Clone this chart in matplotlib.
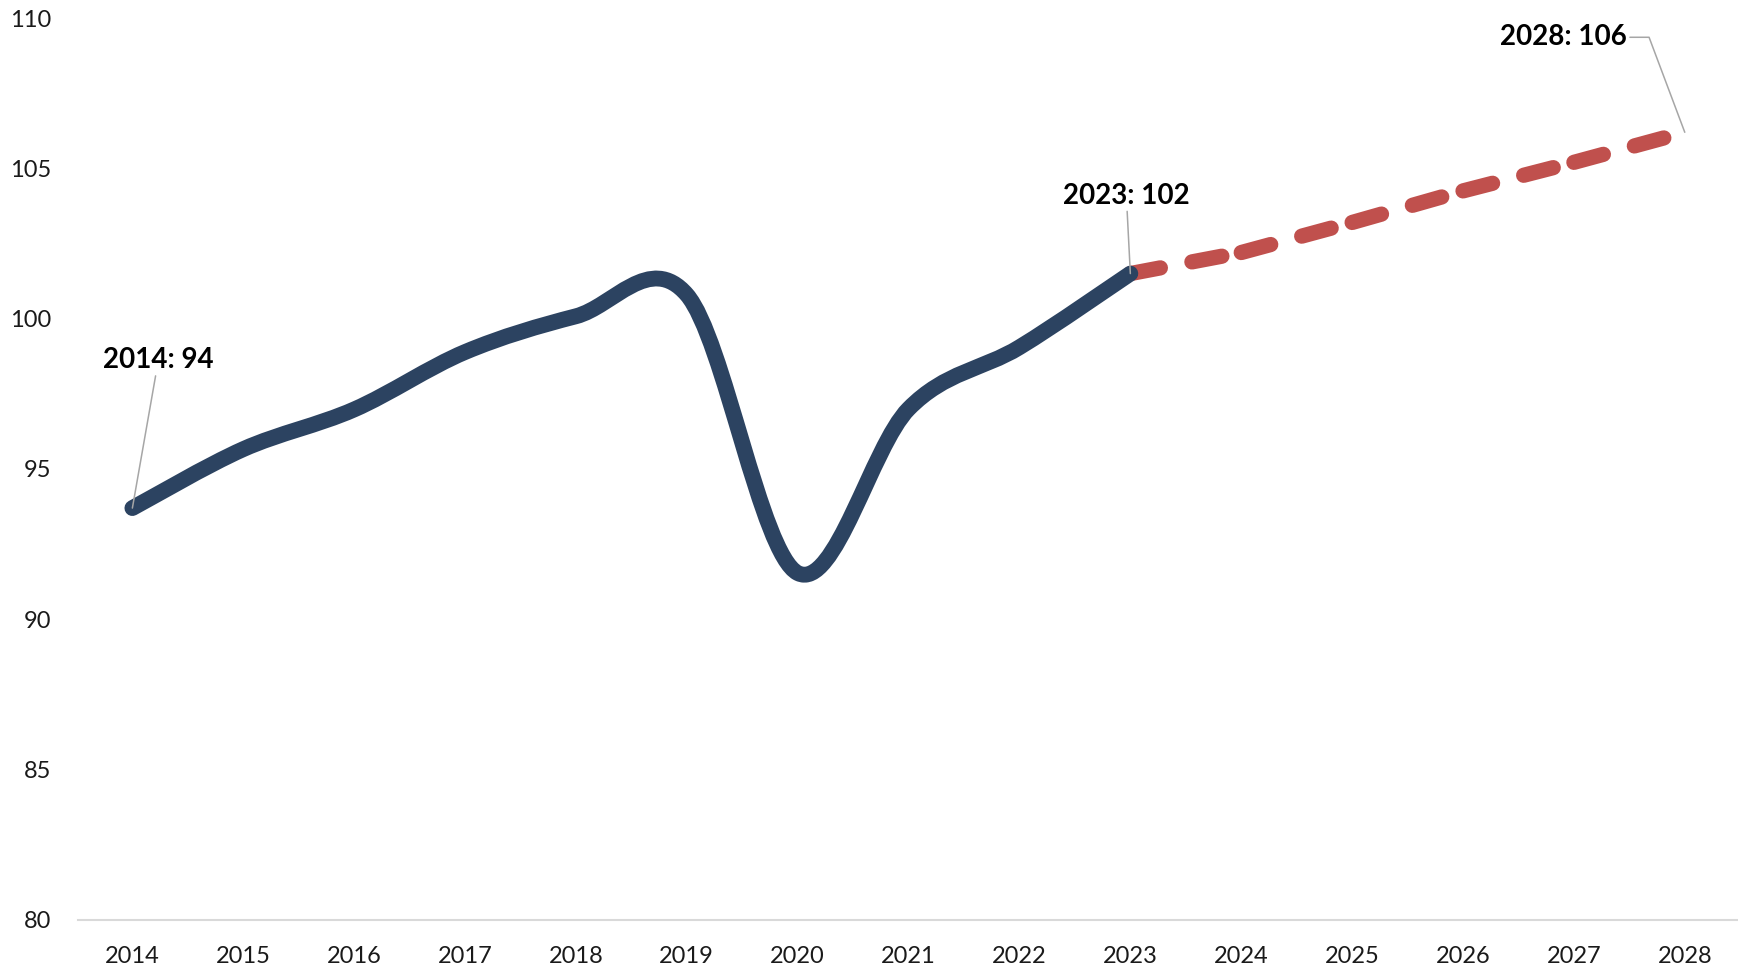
import matplotlib.pyplot as plt
import numpy as np
from matplotlib.path import Path
from matplotlib.patches import PathPatch

# index values, actual and projected
years_actual = [2014, 2015, 2016, 2017, 2018, 2019, 2020, 2021, 2022, 2023]
index_actual = [93.7, 95.66, 96.98, 98.89, 100.08, 100.8, 91.54, 97.0, 99.05, 101.5]
years_forecast = [2023, 2024, 2025, 2026, 2027, 2028]
index_forecast = [101.5, 102.2, 103.2, 104.25, 105.2, 106.2]
year_ticks = list(range(2014, 2029))
y_ticks = [80, 85, 90, 95, 100, 105, 110]

NAVY = '#2C4361'
RED = '#C0504D'
GREY = '#A6A6A6'

plt.rcParams['font.family'] = ['Lato', 'DejaVu Sans']


def smooth_path(xs, ys):
    # cubic bezier through every point, tangents from neighbouring points
    pts = np.column_stack([xs, ys]).astype(float)
    n = len(pts)
    verts = [pts[0]]
    codes = [Path.MOVETO]
    for i in range(n - 1):
        p_prev = pts[max(i - 1, 0)]
        p0, p1 = pts[i], pts[i + 1]
        p_next = pts[min(i + 2, n - 1)]
        verts += [p0 + (p1 - p_prev) / 6, p1 - (p_next - p0) / 6, p1]
        codes += [Path.CURVE4] * 3
    return Path(verts, codes)


fig = plt.figure(figsize=(17.38, 9.69), dpi=100)
ax = fig.add_axes([0.0449, 0.0506, 0.9551, 0.9308])

# projection: each year-to-year piece gets its own dash pattern
for i in range(len(years_forecast) - 1):
    ax.plot(years_forecast[i:i + 2], index_forecast[i:i + 2], color=RED, lw=11,
            dashes=(2.0, 2.1), dash_capstyle='round', solid_capstyle='round', zorder=2)

line = PathPatch(smooth_path(years_actual, index_actual), fill=False, edgecolor=NAVY,
                 lw=11.4, capstyle='round', joinstyle='round', zorder=3)
ax.add_patch(line)

ax.set_xlim(2013.51, 2028.48)
ax.set_ylim(80, 110)
ax.set_xticks(year_ticks)
ax.set_yticks(y_ticks)
ax.tick_params(axis='x', length=0, pad=19, labelsize=17, labelcolor='#1A1A1A')
ax.tick_params(axis='y', length=0, pad=19, labelsize=17, labelcolor='#1A1A1A')
for side in ['left', 'right', 'top']:
    ax.spines[side].set_visible(False)
ax.spines['bottom'].set_color('#D9D9D9')
ax.spines['bottom'].set_linewidth(1.5)

lbl = dict(textcoords='offset pixels', ha='center', va='center', fontsize=20,
           fontweight='bold', color='black', zorder=4)

ax.annotate(f'{years_actual[0]}: {index_actual[0]:.0f}', xy=(years_actual[0], index_actual[0]),
            xytext=(26, 148), arrowprops=dict(arrowstyle='-', color=GREY, lw=1.1,
                                              shrinkA=0, shrinkB=0), **lbl)
ax.annotate(f'{years_actual[-1]}: {index_actual[-1]:.0f}', xy=(years_actual[-1], index_actual[-1]),
            xytext=(-4, 78), arrowprops=dict(arrowstyle='-', color=GREY, lw=1.1,
                                             shrinkA=0, shrinkB=0), **lbl)
ax.annotate(f'{years_forecast[-1]}: {index_forecast[-1]:.0f}',
            xy=(years_forecast[-1], index_forecast[-1]), xytext=(-121, 95),
            arrowprops=dict(arrowstyle='-', color=GREY, lw=1.1, shrinkA=0, shrinkB=0,
                            relpos=(1, 0.5),
                            connectionstyle='angle,angleA=0,angleB=110.6,rad=0'), **lbl)

fig.savefig('out.png', dpi=100, facecolor='white')
